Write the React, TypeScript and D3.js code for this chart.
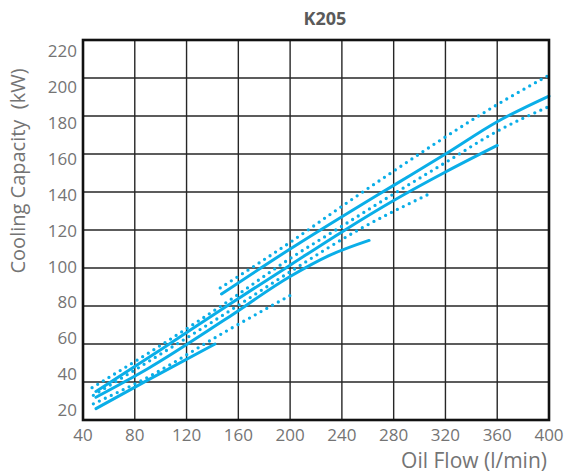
import React from "react";
import * as d3 from "d3";

// tick values
const xTicks = [40, 80, 120, 160, 200, 240, 280, 320, 360, 400];
const yTicks = [20, 40, 60, 80, 100, 120, 140, 160, 180, 200, 220];

// curves: [oil flow, kW]
const upperDotted = [[146, 89.5], [200, 113.5], [240, 132.5], [280, 151], [320, 169], [360, 186], [400, 201.5]];
const upperSolid = [[147, 86.3], [200, 110], [240, 127], [280, 143.5], [320, 160], [360, 177], [400, 190.5]];
const dotted2 = [[47, 37], [90, 55], [150, 81.5], [200, 105], [240, 122], [280, 139], [320, 155.5], [360, 172], [400, 185]];
const solid2 = [[50, 35], [100, 57], [150, 79.5], [200, 101.5], [240, 119], [280, 135.5], [320, 150.5], [360, 164.5]];
const dotted3 = [[48, 33], [90, 50.5], [150, 76], [200, 98], [250, 119], [306, 138.5]];
const solid3 = [[50, 32], [90, 47], [150, 73], [200, 95.5], [230, 106.5], [261, 114.5]];
const dotted4 = [[48, 28.5], [90, 42.5], [150, 66.5], [200.7, 85.8]];
const solid4 = [[50, 26], [90, 41], [142, 60]];

const solidLines = [upperSolid, solid2, solid3, solid4];
const dottedLines = [upperDotted, dotted2, dotted3, dotted4];

const W = 569;
const H = 473;
const margin = { top: 40, right: 20, bottom: 53, left: 83 };
const blue = "#0aaee8";
const textGray = "#747474";

export default function App() {
  const x = d3.scaleLinear().domain([40, 400]).range([margin.left, 549]);
  const y = d3.scaleLinear().domain([20, 220]).range([H - margin.bottom, margin.top]);
  // printed labels sit a bit off the grid in the scan
  const yLabel = d3.scaleLinear().domain([20, 220]).range([410, 51]);

  const line = d3
    .line<number[]>()
    .x((d) => x(d[0]))
    .y((d) => y(d[1]))
    .curve(d3.curveMonotoneX);

  const font = "'Open Sans', 'DejaVu Sans', sans-serif";

  return (
    <svg width={W} height={H} style={{ position: "absolute", left: 0, top: 0 }}>
      <rect width={W} height={H} fill="#fff" />
      <text x={325} y={25} textAnchor="middle" fontFamily={font} fontWeight="bold" fontSize={18} fill="#5a5a5a">
        K205
      </text>

      {/* grid */}
      <g stroke="#262626" strokeWidth={1.4}>
        {xTicks.map((t) => (
          <line key={"vx" + t} x1={x(t)} x2={x(t)} y1={y(220)} y2={y(20)} />
        ))}
        {yTicks.map((t) => (
          <line key={"hy" + t} x1={x(40)} x2={x(400)} y1={y(t)} y2={y(t)} />
        ))}
      </g>

      {/* curves */}
      <g fill="none" stroke={blue}>
        {solidLines.map((d, i) => (
          <path key={"s" + i} d={line(d as any) || ""} strokeWidth={3} strokeLinecap="round" />
        ))}
        {dottedLines.map((d, i) => (
          <path
            key={"d" + i}
            d={line(d as any) || ""}
            strokeWidth={3.3}
            strokeLinecap="round"
            strokeDasharray="0 6.6"
          />
        ))}
      </g>

      {/* frame */}
      <rect
        x={x(40)}
        y={y(220)}
        width={x(400) - x(40)}
        height={y(20) - y(220)}
        fill="none"
        stroke="#111"
        strokeWidth={2.6}
      />

      {/* tick labels */}
      <g fontFamily={font} fontSize={17} fill={textGray}>
        {xTicks.map((t) => (
          <text key={"xl" + t} x={x(t)} y={441} textAnchor="middle">
            {t}
          </text>
        ))}
        {yTicks.map((t) => (
          <text key={"yl" + t} x={77} y={yLabel(t)} dy="0.36em" textAnchor="end">
            {t}
          </text>
        ))}
      </g>

      <text x={547} y={468} textAnchor="end" fontFamily={font} fontSize={21} fill={textGray}>
        Oil Flow (l/min)
      </text>
      <text
        transform={`translate(25,171) rotate(-90)`}
        textAnchor="middle"
        fontFamily={font}
        fontSize={20}
        fill={textGray}
        style={{ whiteSpace: "pre" }}
      >
        {"Cooling Capacity  (kW)"}
      </text>
    </svg>
  );
}
